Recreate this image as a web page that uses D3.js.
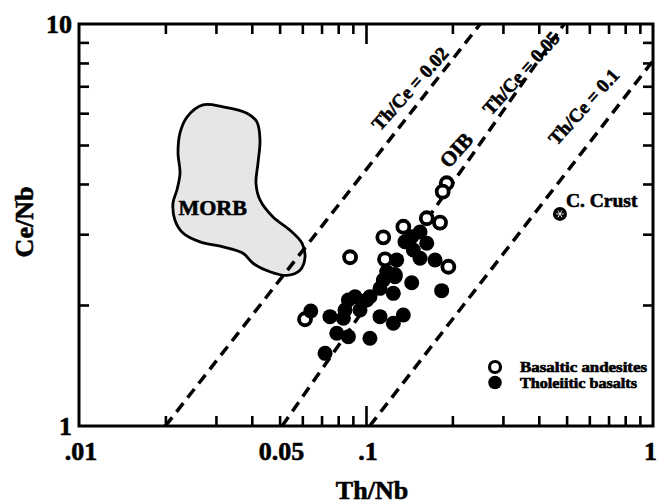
<!DOCTYPE html>
<html><head><meta charset="utf-8">
<script src="https://cdn.jsdelivr.net/npm/d3@7"></script>
<style>
body{margin:0;background:#fff}
text{font-family:"Liberation Serif","Times New Roman",serif;font-weight:bold;fill:#000;stroke:#000;stroke-width:0.6px}
</style>
</head><body>
<svg id="c" width="658" height="504"></svg>
<script>
// ---- data (Th/Nb, Ce/Nb) ----
const basalticAndesites = [
  [0.1628,3.287],[0.1811,3.205],[0.1349,3.131],[0.1149,2.947],[0.0880,2.629],
  [0.1936,2.490],[0.0613,1.843],[0.1911,4.016],[0.1850,3.827],[0.1165,2.598],[0.1262,2.375]
];
const tholeiiticBasalts = [
  [0.1443,2.957],[0.1367,2.874],[0.1628,2.848],[0.1462,2.741],[0.1543,2.613],
  [0.1740,2.588],[0.1279,2.588],[0.1180,2.420],[0.1149,2.307],[0.1262,2.351],
  [0.1443,2.272],[0.1835,2.171],[0.1119,2.200],[0.1245,2.138],[0.1032,2.097],
  [0.0916,2.097],[0.0868,2.058],[0.0953,1.943],[0.0845,1.943],[0.0749,1.871],
  [0.0834,1.853],[0.1119,1.871],[0.1245,1.801],[0.1349,1.889],[0.0791,1.701],
  [0.0868,1.668],[0.1032,1.653],[0.0720,1.516],[0.0642,1.932],[0.1543,3.038],[0.1006,2.058]
];
const continentalCrust = [0.474, 3.37];
const morbOutline = [
  [0.02378,5.87],[0.02704,6.29],[0.03176,6.22],[0.03848,6.00],[0.04171,5.70],
  [0.04272,5.14],[0.04204,4.51],[0.04137,4.02],[0.04272,3.65],[0.04742,3.31],
  [0.05435,3.07],[0.05984,2.85],[0.06130,2.63],[0.05888,2.44],[0.05306,2.37],
  [0.04627,2.42],[0.04039,2.54],[0.03727,2.69],[0.03176,2.79],[0.02640,2.87],
  [0.02303,3.02],[0.02160,3.25],[0.02126,3.59],[0.02195,3.87],[0.02249,4.26],
  [0.02213,4.78],[0.02249,5.36]
];
const thCeLines = [
  [[0.02,1],[0.25,10]],
  [[0.051,1],[0.49,10]],
  [[0.103,1],[1,8.1]]
];
const thCeLabels = ["Th/Ce = 0.02","Th/Ce = 0.05","Th/Ce = 0.1"];
const thCeLabelPos = [[0.1422,6.91],[0.3467,7.55],[0.573,6.23]];
const oibLabelPos = [0.206,4.86];
const morbLabelPos = [0.0222,3.34];
const xTickValues = [0.01,0.05,0.1,1];
const xTickLabels = [".01","0.05",".1","1"];
const yTickValues = [1,10];
const yTickLabels = ["1","10"];
const xMinor = [0.02,0.03,0.04,0.05,0.06,0.07,0.08,0.09,0.2,0.3,0.4,0.5,0.6,0.7,0.8,0.9];
const xMajor = [0.1];
const yMinor = [2,3,4,5,6,7,8,9];
const legendItems = ["Basaltic andesites","Tholeiitic basalts"];
const legendTextWidths = [127,117];

// ---- layout ----
const L=79, R=653, T=24, B=426;
const svg = d3.select("#c");
const x = d3.scaleLog().domain([0.01,1]).range([L,R]);
const y = d3.scaleLog().domain([1,10]).range([B,T]);

// MORB field
svg.append("path")
  .attr("d", d3.line().x(d=>x(d[0])).y(d=>y(d[1])).curve(d3.curveCatmullRomClosed.alpha(0.5))(morbOutline))
  .attr("fill","#e6e6e6").attr("stroke","#000").attr("stroke-width",2.8);

// Th/Ce dashed lines
svg.selectAll("line.ref").data(thCeLines).join("line").attr("class","ref")
  .attr("x1",d=>x(d[0][0])).attr("y1",d=>y(d[0][1]))
  .attr("x2",d=>x(d[1][0])).attr("y2",d=>y(d[1][1]))
  .attr("stroke","#000").attr("stroke-width",3.5).attr("stroke-dasharray","11,7");

// labels along lines
svg.selectAll("text.rl").data(thCeLabels).join("text").attr("class","rl")
  .attr("transform",(d,i)=>`translate(${x(thCeLabelPos[i][0])},${y(thCeLabelPos[i][1])}) rotate(-48)`)
  .attr("text-anchor","middle").attr("dy","0.35em").attr("font-size",19).text(d=>d);
svg.append("text")
  .attr("transform",`translate(${x(oibLabelPos[0])},${y(oibLabelPos[1])}) rotate(-48)`)
  .attr("text-anchor","middle").attr("dy","0.35em").attr("font-size",21).text("OIB");
svg.append("text")
  .attr("x",x(morbLabelPos[0])).attr("y",y(morbLabelPos[1]))
  .attr("font-size",22).text("MORB");

// data points
svg.selectAll("circle.ba").data(basalticAndesites).join("circle").attr("class","ba")
  .attr("cx",d=>x(d[0])).attr("cy",d=>y(d[1])).attr("r",6)
  .attr("fill","#fff").attr("stroke","#000").attr("stroke-width",3.8);
svg.selectAll("circle.tb").data(tholeiiticBasalts).join("circle").attr("class","tb")
  .attr("cx",d=>x(d[0])).attr("cy",d=>y(d[1])).attr("r",7.5).attr("fill","#000");

// continental crust
const cc = svg.append("g").attr("transform",`translate(${x(continentalCrust[0])},${y(continentalCrust[1])})`);
cc.append("circle").attr("r",7).attr("fill","#000");
[0,60,120].forEach(a=>{
  const r=a*Math.PI/180;
  cc.append("line").attr("x1",-4*Math.cos(r)).attr("y1",-4*Math.sin(r))
    .attr("x2",4*Math.cos(r)).attr("y2",4*Math.sin(r)).attr("stroke","#fff").attr("stroke-width",0.9);
});
svg.append("text").attr("x",x(continentalCrust[0])+6).attr("y",y(continentalCrust[1])-7)
  .attr("font-size",19.5).text("C. Crust");

// legend
const lg = svg.append("g").attr("transform","translate(495,367)");
lg.append("circle").attr("cx",0).attr("cy",0).attr("r",5.5).attr("fill","#fff").attr("stroke","#000").attr("stroke-width",3.2);
lg.append("circle").attr("cx",0).attr("cy",15.5).attr("r",6.8).attr("fill","#000");
lg.selectAll("text").data(legendItems).join("text")
  .attr("x",25).attr("y",(d,i)=>i*15.5+5).attr("font-size",14)
  .attr("textLength",(d,i)=>legendTextWidths[i]).attr("lengthAdjust","spacingAndGlyphs").text(d=>d);

// frame + ticks
function ticks(g, axis){ g.call(axis); g.select(".domain").remove(); g.selectAll("line").attr("stroke","#000").attr("stroke-width",2.6); g.selectAll("text").remove(); }
svg.append("g").attr("transform",`translate(0,${B})`).call(g=>ticks(g,d3.axisBottom(x).tickValues(xMinor).tickSize(-10)));
svg.append("g").attr("transform",`translate(0,${B})`).call(g=>ticks(g,d3.axisBottom(x).tickValues(xMajor).tickSize(-20)));
svg.append("g").attr("transform",`translate(0,${T})`).call(g=>ticks(g,d3.axisTop(x).tickValues(xMinor).tickSize(-10)));
svg.append("g").attr("transform",`translate(0,${T})`).call(g=>ticks(g,d3.axisTop(x).tickValues(xMajor).tickSize(-20)));
svg.append("g").attr("transform",`translate(${L},0)`).call(g=>ticks(g,d3.axisLeft(y).tickValues(yMinor).tickSize(-10)));
svg.append("g").attr("transform",`translate(${R},0)`).call(g=>ticks(g,d3.axisRight(y).tickValues(yMinor).tickSize(-10)));
svg.append("rect").attr("x",L).attr("y",T).attr("width",R-L).attr("height",B-T)
  .attr("fill","none").attr("stroke","#000").attr("stroke-width",3);

// tick labels
svg.selectAll("text.xt").data(xTickValues).join("text").attr("class","xt")
  .attr("x",(d,i)=> i===xTickValues.length-1 ? 657 : x(d)+2).attr("y",B+34)
  .attr("text-anchor",(d,i)=> i===xTickValues.length-1 ? "end" : "middle").attr("font-size",26)
  .text((d,i)=>xTickLabels[i]);
svg.selectAll("text.yt").data(yTickValues).join("text").attr("class","yt")
  .attr("x",L-7).attr("y",d=>y(d)+9).attr("text-anchor","end").attr("font-size",26)
  .text((d,i)=>yTickLabels[i]);

// axis titles
svg.append("text").attr("x",372).attr("y",499).attr("text-anchor","middle").attr("font-size",26).text("Th/Nb");
svg.append("text").attr("transform","translate(33,222) rotate(-90)").attr("text-anchor","middle").attr("font-size",26).text("Ce/Nb");
</script>
</body></html>
